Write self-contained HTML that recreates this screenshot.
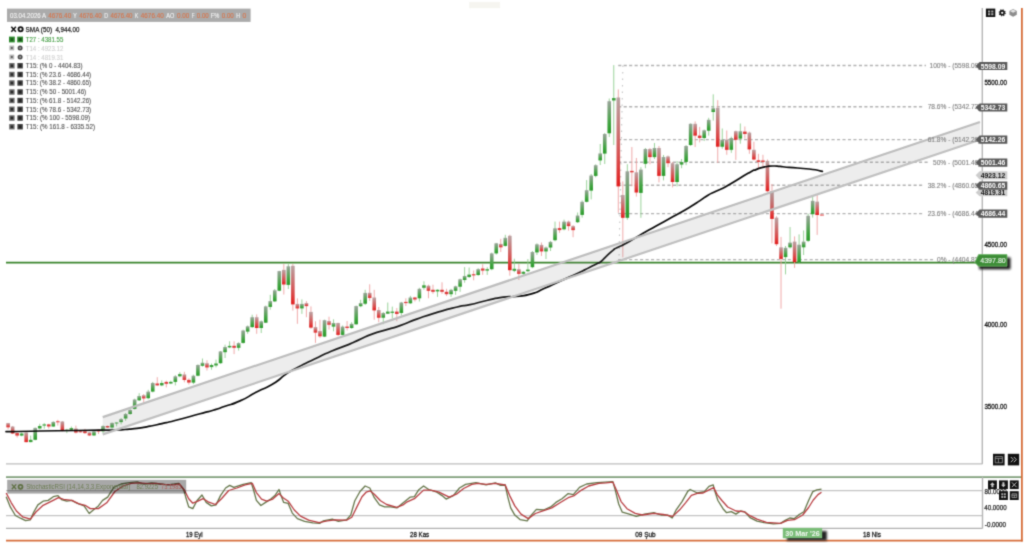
<!DOCTYPE html>
<html><head><meta charset="utf-8"><title>Chart</title>
<style>html,body{margin:0;padding:0;background:#fff;}body{width:1024px;height:543px;overflow:hidden;}svg{display:block;}text{font-family:"Liberation Sans",sans-serif;}</style></head><body>
<svg width="1024" height="543" viewBox="0 0 1024 543">
<defs>
<linearGradient id="gg" x1="0" y1="0" x2="0" y2="1"><stop offset="0" stop-color="#9aa39a"/><stop offset="0.7" stop-color="#3fa43f"/><stop offset="1" stop-color="#2a9a2a"/></linearGradient>
<linearGradient id="gr" x1="0" y1="0" x2="0" y2="1"><stop offset="0" stop-color="#b9a3a3"/><stop offset="0.75" stop-color="#dc4545"/><stop offset="1" stop-color="#e21d1d"/></linearGradient>
<filter id="bl" x="0" y="0" width="100%" height="100%" filterUnits="userSpaceOnUse" color-interpolation-filters="sRGB"><feConvolveMatrix order="3" kernelMatrix="0.0256 0.1088 0.0256 0.1088 0.4624 0.1088 0.0256 0.1088 0.0256" edgeMode="duplicate" preserveAlpha="false"/></filter>
<filter id="sh" x="-20%" y="-20%" width="140%" height="160%"><feGaussianBlur stdDeviation="0.9"/></filter>
</defs>
<rect width="1024" height="543" fill="#fff"/>
<g filter="url(#bl)">
<rect x="469.3" y="2" width="30.7" height="6.2" fill="#f6f5f0"/>
<line x1="982.3" y1="8" x2="982.3" y2="464" stroke="#b6b6b6" stroke-width="1.4"/>
<line x1="6" y1="463.8" x2="982.5" y2="463.8" stroke="#bdbdbd" stroke-width="1.3"/>
<line x1="6" y1="477.2" x2="1021" y2="477.2" stroke="#7f9f7a" stroke-width="1.8"/>
<line x1="6" y1="490.6" x2="982.5" y2="490.6" stroke="#c4c4c4" stroke-width="1.2"/>
<line x1="6" y1="515.6" x2="982.5" y2="515.6" stroke="#c4c4c4" stroke-width="1.2"/>
<line x1="6" y1="528.3" x2="982.5" y2="528.3" stroke="#b0b0b0" stroke-width="1.3"/>
<line x1="982.5" y1="477" x2="982.5" y2="528.5" stroke="#b4b4b4" stroke-width="1.4"/>
<line x1="1021.9" y1="8" x2="1021.9" y2="541.4" stroke="#d66c38" stroke-width="1.8"/>
<line x1="6" y1="540.6" x2="1022.7" y2="540.6" stroke="#d66c38" stroke-width="1.9"/>
<line x1="618.2" y1="65.5" x2="926.0" y2="65.5" stroke="#b2b2b2" stroke-width="1.45" stroke-dasharray="3.1,2.37"/>
<line x1="618.2" y1="106.8" x2="924.2" y2="106.8" stroke="#b2b2b2" stroke-width="1.45" stroke-dasharray="3.1,2.37"/>
<line x1="618.2" y1="139.6" x2="924.2" y2="139.6" stroke="#b2b2b2" stroke-width="1.45" stroke-dasharray="3.1,2.37"/>
<line x1="618.2" y1="162.2" x2="929.5" y2="162.2" stroke="#b2b2b2" stroke-width="1.45" stroke-dasharray="3.1,2.37"/>
<line x1="618.2" y1="185.3" x2="924.2" y2="185.3" stroke="#b2b2b2" stroke-width="1.45" stroke-dasharray="3.1,2.37"/>
<line x1="618.2" y1="213.6" x2="924.2" y2="213.6" stroke="#b2b2b2" stroke-width="1.45" stroke-dasharray="3.1,2.37"/>
<line x1="618.2" y1="259.6" x2="933.5" y2="259.6" stroke="#b2b2b2" stroke-width="1.45" stroke-dasharray="3.1,2.37"/>
<line x1="622.9" y1="65.5" x2="619.0" y2="259.6" stroke="#c4c4c4" stroke-width="1.1" stroke-dasharray="1.6,4.9"/>
<line x1="6" y1="262.6" x2="982" y2="262.6" stroke="#38832a" stroke-width="1.9"/>
<line x1="8.10" y1="423.1" x2="8.10" y2="429.4" stroke="#eea0a0" stroke-width="0.9"/>
<rect x="6.30" y="423.1" width="3.6" height="4.2" fill="url(#gr)"/>
<line x1="12.62" y1="426.0" x2="12.62" y2="434.0" stroke="#eea0a0" stroke-width="0.9"/>
<rect x="10.82" y="426.5" width="3.6" height="7.0" fill="url(#gr)"/>
<line x1="17.14" y1="432.5" x2="17.14" y2="437.5" stroke="#eea0a0" stroke-width="0.9"/>
<rect x="15.34" y="433.1" width="3.6" height="2.5" fill="#dc3a3a"/>
<line x1="21.66" y1="432.5" x2="21.66" y2="436.3" stroke="#8fce8f" stroke-width="0.9"/>
<rect x="19.86" y="433.5" width="3.6" height="2.1" fill="#3a9f3a"/>
<line x1="26.18" y1="432.2" x2="26.18" y2="442.5" stroke="#eea0a0" stroke-width="0.9"/>
<rect x="24.38" y="432.5" width="3.6" height="9.6" fill="url(#gr)"/>
<line x1="30.70" y1="435.6" x2="30.70" y2="442.3" stroke="#8fce8f" stroke-width="0.9"/>
<rect x="28.90" y="439.8" width="3.6" height="2.3" fill="#3a9f3a"/>
<line x1="35.22" y1="427.5" x2="35.22" y2="440.3" stroke="#8fce8f" stroke-width="0.9"/>
<rect x="33.42" y="427.9" width="3.6" height="11.9" fill="url(#gg)"/>
<line x1="39.74" y1="423.8" x2="39.74" y2="429.4" stroke="#8fce8f" stroke-width="0.9"/>
<rect x="37.94" y="426.0" width="3.6" height="2.5" fill="#3a9f3a"/>
<line x1="44.26" y1="423.1" x2="44.26" y2="428.8" stroke="#8fce8f" stroke-width="0.9"/>
<rect x="42.46" y="424.4" width="3.6" height="1.2" fill="#3a9f3a"/>
<line x1="48.78" y1="423.8" x2="48.78" y2="428.8" stroke="#eea0a0" stroke-width="0.9"/>
<rect x="46.98" y="424.4" width="3.6" height="2.1" fill="#dc3a3a"/>
<line x1="53.30" y1="421.3" x2="53.30" y2="426.9" stroke="#8fce8f" stroke-width="0.9"/>
<rect x="51.50" y="421.9" width="3.6" height="4.6" fill="url(#gg)"/>
<line x1="57.82" y1="419.8" x2="57.82" y2="425.6" stroke="#eea0a0" stroke-width="0.9"/>
<rect x="56.02" y="421.3" width="3.6" height="1.0" fill="#dc3a3a"/>
<line x1="62.34" y1="421.0" x2="62.34" y2="431.4" stroke="#eea0a0" stroke-width="0.9"/>
<rect x="60.54" y="421.5" width="3.6" height="9.5" fill="url(#gr)"/>
<line x1="66.86" y1="428.8" x2="66.86" y2="433.1" stroke="#8fce8f" stroke-width="0.9"/>
<rect x="65.06" y="429.8" width="3.6" height="1.2" fill="#3a9f3a"/>
<line x1="71.38" y1="426.5" x2="71.38" y2="430.0" stroke="#8fce8f" stroke-width="0.9"/>
<rect x="69.58" y="428.1" width="3.6" height="1.7" fill="#3a9f3a"/>
<line x1="75.90" y1="425.6" x2="75.90" y2="433.5" stroke="#eea0a0" stroke-width="0.9"/>
<rect x="74.10" y="428.5" width="3.6" height="4.0" fill="url(#gr)"/>
<line x1="80.42" y1="430.6" x2="80.42" y2="432.5" stroke="#eea0a0" stroke-width="0.9"/>
<rect x="78.62" y="431.3" width="3.6" height="1.0" fill="#dc3a3a"/>
<line x1="84.94" y1="428.8" x2="84.94" y2="434.0" stroke="#eea0a0" stroke-width="0.9"/>
<rect x="83.14" y="431.3" width="3.6" height="1.8" fill="#dc3a3a"/>
<line x1="89.46" y1="432.0" x2="89.46" y2="435.8" stroke="#eea0a0" stroke-width="0.9"/>
<rect x="87.66" y="432.3" width="3.6" height="3.1" fill="url(#gr)"/>
<line x1="93.98" y1="430.6" x2="93.98" y2="436.0" stroke="#8fce8f" stroke-width="0.9"/>
<rect x="92.18" y="431.3" width="3.6" height="4.1" fill="url(#gg)"/>
<line x1="98.50" y1="429.8" x2="98.50" y2="434.0" stroke="#eea0a0" stroke-width="0.9"/>
<rect x="96.70" y="429.8" width="3.6" height="1.7" fill="#dc3a3a"/>
<line x1="103.02" y1="425.3" x2="103.02" y2="433.1" stroke="#8fce8f" stroke-width="0.9"/>
<rect x="101.22" y="426.0" width="3.6" height="5.3" fill="url(#gg)"/>
<line x1="107.54" y1="425.6" x2="107.54" y2="428.0" stroke="#eea0a0" stroke-width="0.9"/>
<rect x="105.74" y="426.0" width="3.6" height="1.5" fill="#dc3a3a"/>
<line x1="112.06" y1="422.5" x2="112.06" y2="428.8" stroke="#8fce8f" stroke-width="0.9"/>
<rect x="110.26" y="422.9" width="3.6" height="4.6" fill="url(#gg)"/>
<line x1="116.58" y1="422.5" x2="116.58" y2="426.3" stroke="#8fce8f" stroke-width="0.9"/>
<rect x="114.78" y="422.5" width="3.6" height="1.0" fill="#3a9f3a"/>
<line x1="121.10" y1="418.0" x2="121.10" y2="424.4" stroke="#8fce8f" stroke-width="0.9"/>
<rect x="119.30" y="419.1" width="3.6" height="3.0" fill="url(#gg)"/>
<line x1="125.62" y1="413.0" x2="125.62" y2="420.8" stroke="#8fce8f" stroke-width="0.9"/>
<rect x="123.82" y="414.0" width="3.6" height="4.5" fill="url(#gg)"/>
<line x1="130.14" y1="408.9" x2="130.14" y2="414.8" stroke="#8fce8f" stroke-width="0.9"/>
<rect x="128.34" y="410.0" width="3.6" height="4.0" fill="url(#gg)"/>
<line x1="134.66" y1="398.7" x2="134.66" y2="409.6" stroke="#8fce8f" stroke-width="0.9"/>
<rect x="132.86" y="399.5" width="3.6" height="9.4" fill="url(#gg)"/>
<line x1="139.18" y1="393.2" x2="139.18" y2="401.0" stroke="#8fce8f" stroke-width="0.9"/>
<rect x="137.38" y="396.0" width="3.6" height="4.3" fill="url(#gg)"/>
<line x1="143.70" y1="394.0" x2="143.70" y2="402.6" stroke="#eea0a0" stroke-width="0.9"/>
<rect x="141.90" y="395.2" width="3.6" height="3.2" fill="url(#gr)"/>
<line x1="148.22" y1="389.8" x2="148.22" y2="399.2" stroke="#8fce8f" stroke-width="0.9"/>
<rect x="146.42" y="391.6" width="3.6" height="6.6" fill="url(#gg)"/>
<line x1="152.74" y1="381.9" x2="152.74" y2="392.4" stroke="#8fce8f" stroke-width="0.9"/>
<rect x="150.94" y="383.0" width="3.6" height="8.6" fill="url(#gg)"/>
<line x1="157.26" y1="377.2" x2="157.26" y2="385.7" stroke="#eea0a0" stroke-width="0.9"/>
<rect x="155.46" y="383.5" width="3.6" height="1.9" fill="#dc3a3a"/>
<line x1="161.78" y1="380.4" x2="161.78" y2="386.2" stroke="#8fce8f" stroke-width="0.9"/>
<rect x="159.98" y="383.0" width="3.6" height="2.4" fill="#3a9f3a"/>
<line x1="166.30" y1="380.7" x2="166.30" y2="387.4" stroke="#eea0a0" stroke-width="0.9"/>
<rect x="164.50" y="381.9" width="3.6" height="1.9" fill="#dc3a3a"/>
<line x1="170.82" y1="380.7" x2="170.82" y2="384.1" stroke="#8fce8f" stroke-width="0.9"/>
<rect x="169.02" y="381.9" width="3.6" height="1.6" fill="#3a9f3a"/>
<line x1="175.34" y1="375.2" x2="175.34" y2="385.4" stroke="#8fce8f" stroke-width="0.9"/>
<rect x="173.54" y="376.3" width="3.6" height="5.6" fill="url(#gg)"/>
<line x1="179.86" y1="372.1" x2="179.86" y2="377.2" stroke="#8fce8f" stroke-width="0.9"/>
<rect x="178.06" y="374.1" width="3.6" height="2.2" fill="#3a9f3a"/>
<line x1="184.38" y1="371.8" x2="184.38" y2="382.3" stroke="#eea0a0" stroke-width="0.9"/>
<rect x="182.58" y="374.4" width="3.6" height="5.5" fill="url(#gr)"/>
<line x1="188.90" y1="378.3" x2="188.90" y2="384.6" stroke="#eea0a0" stroke-width="0.9"/>
<rect x="187.10" y="379.9" width="3.6" height="2.7" fill="#dc3a3a"/>
<line x1="193.42" y1="374.7" x2="193.42" y2="384.1" stroke="#8fce8f" stroke-width="0.9"/>
<rect x="191.62" y="375.7" width="3.6" height="6.9" fill="url(#gg)"/>
<line x1="197.94" y1="364.3" x2="197.94" y2="376.3" stroke="#8fce8f" stroke-width="0.9"/>
<rect x="196.14" y="365.0" width="3.6" height="10.7" fill="url(#gg)"/>
<line x1="202.46" y1="358.5" x2="202.46" y2="366.6" stroke="#8fce8f" stroke-width="0.9"/>
<rect x="200.66" y="362.7" width="3.6" height="3.1" fill="url(#gg)"/>
<line x1="206.98" y1="360.3" x2="206.98" y2="370.5" stroke="#eea0a0" stroke-width="0.9"/>
<rect x="205.18" y="363.2" width="3.6" height="4.2" fill="url(#gr)"/>
<line x1="211.50" y1="363.5" x2="211.50" y2="369.7" stroke="#8fce8f" stroke-width="0.9"/>
<rect x="209.70" y="365.0" width="3.6" height="2.1" fill="#3a9f3a"/>
<line x1="216.02" y1="359.6" x2="216.02" y2="367.4" stroke="#8fce8f" stroke-width="0.9"/>
<rect x="214.22" y="363.5" width="3.6" height="2.0" fill="#3a9f3a"/>
<line x1="220.54" y1="351.0" x2="220.54" y2="363.8" stroke="#8fce8f" stroke-width="0.9"/>
<rect x="218.74" y="351.4" width="3.6" height="11.8" fill="url(#gg)"/>
<line x1="225.06" y1="344.7" x2="225.06" y2="358.0" stroke="#8fce8f" stroke-width="0.9"/>
<rect x="223.26" y="347.0" width="3.6" height="5.2" fill="url(#gg)"/>
<line x1="229.58" y1="341.3" x2="229.58" y2="348.1" stroke="#8fce8f" stroke-width="0.9"/>
<rect x="227.78" y="345.9" width="3.6" height="1.5" fill="#3a9f3a"/>
<line x1="234.10" y1="341.3" x2="234.10" y2="354.1" stroke="#eea0a0" stroke-width="0.9"/>
<rect x="232.30" y="345.8" width="3.6" height="2.0" fill="#dc3a3a"/>
<line x1="238.62" y1="342.3" x2="238.62" y2="350.6" stroke="#8fce8f" stroke-width="0.9"/>
<rect x="236.82" y="343.1" width="3.6" height="4.7" fill="url(#gg)"/>
<line x1="243.14" y1="329.7" x2="243.14" y2="343.7" stroke="#8fce8f" stroke-width="0.9"/>
<rect x="241.34" y="330.5" width="3.6" height="12.4" fill="url(#gg)"/>
<line x1="247.66" y1="325.5" x2="247.66" y2="333.8" stroke="#8fce8f" stroke-width="0.9"/>
<rect x="245.86" y="326.3" width="3.6" height="5.3" fill="url(#gg)"/>
<line x1="252.18" y1="314.7" x2="252.18" y2="328.0" stroke="#8fce8f" stroke-width="0.9"/>
<rect x="250.38" y="317.2" width="3.6" height="9.9" fill="url(#gg)"/>
<line x1="256.70" y1="314.4" x2="256.70" y2="333.8" stroke="#eea0a0" stroke-width="0.9"/>
<rect x="254.90" y="317.2" width="3.6" height="10.8" fill="url(#gr)"/>
<line x1="261.22" y1="320.5" x2="261.22" y2="333.0" stroke="#8fce8f" stroke-width="0.9"/>
<rect x="259.42" y="321.3" width="3.6" height="6.7" fill="url(#gg)"/>
<line x1="265.74" y1="305.6" x2="265.74" y2="323.0" stroke="#8fce8f" stroke-width="0.9"/>
<rect x="263.94" y="306.4" width="3.6" height="16.3" fill="url(#gg)"/>
<line x1="270.26" y1="294.8" x2="270.26" y2="309.7" stroke="#8fce8f" stroke-width="0.9"/>
<rect x="268.46" y="301.1" width="3.6" height="5.8" fill="url(#gg)"/>
<line x1="274.78" y1="289.0" x2="274.78" y2="301.9" stroke="#8fce8f" stroke-width="0.9"/>
<rect x="272.98" y="290.3" width="3.6" height="11.1" fill="url(#gg)"/>
<line x1="279.30" y1="270.8" x2="279.30" y2="291.2" stroke="#8fce8f" stroke-width="0.9"/>
<rect x="277.50" y="271.1" width="3.6" height="19.6" fill="url(#gg)"/>
<line x1="283.82" y1="264.1" x2="283.82" y2="294.5" stroke="#eea0a0" stroke-width="0.9"/>
<rect x="282.02" y="269.9" width="3.6" height="14.6" fill="url(#gr)"/>
<line x1="288.34" y1="264.1" x2="288.34" y2="289.0" stroke="#8fce8f" stroke-width="0.9"/>
<rect x="286.54" y="266.3" width="3.6" height="18.6" fill="url(#gg)"/>
<line x1="292.86" y1="264.1" x2="292.86" y2="310.6" stroke="#eea0a0" stroke-width="0.9"/>
<rect x="291.06" y="265.8" width="3.6" height="38.6" fill="url(#gr)"/>
<line x1="297.38" y1="298.4" x2="297.38" y2="323.8" stroke="#eea0a0" stroke-width="0.9"/>
<rect x="295.58" y="303.9" width="3.6" height="4.5" fill="url(#gr)"/>
<line x1="301.90" y1="299.4" x2="301.90" y2="313.9" stroke="#8fce8f" stroke-width="0.9"/>
<rect x="300.10" y="303.9" width="3.6" height="4.5" fill="url(#gg)"/>
<line x1="306.42" y1="301.1" x2="306.42" y2="317.2" stroke="#eea0a0" stroke-width="0.9"/>
<rect x="304.62" y="303.1" width="3.6" height="3.0" fill="url(#gr)"/>
<line x1="310.94" y1="306.4" x2="310.94" y2="328.8" stroke="#eea0a0" stroke-width="0.9"/>
<rect x="309.14" y="311.9" width="3.6" height="15.7" fill="url(#gr)"/>
<line x1="315.46" y1="321.3" x2="315.46" y2="342.9" stroke="#eea0a0" stroke-width="0.9"/>
<rect x="313.66" y="327.1" width="3.6" height="5.5" fill="url(#gr)"/>
<line x1="319.98" y1="319.7" x2="319.98" y2="337.9" stroke="#eea0a0" stroke-width="0.9"/>
<rect x="318.18" y="331.0" width="3.6" height="5.3" fill="url(#gr)"/>
<line x1="324.50" y1="319.7" x2="324.50" y2="337.1" stroke="#8fce8f" stroke-width="0.9"/>
<rect x="322.70" y="320.2" width="3.6" height="16.4" fill="url(#gg)"/>
<line x1="329.02" y1="316.7" x2="329.02" y2="329.6" stroke="#eea0a0" stroke-width="0.9"/>
<rect x="327.22" y="321.0" width="3.6" height="3.7" fill="url(#gr)"/>
<line x1="333.54" y1="319.3" x2="333.54" y2="331.3" stroke="#8fce8f" stroke-width="0.9"/>
<rect x="331.74" y="323.0" width="3.6" height="3.6" fill="url(#gg)"/>
<line x1="338.06" y1="322.7" x2="338.06" y2="336.3" stroke="#eea0a0" stroke-width="0.9"/>
<rect x="336.26" y="323.0" width="3.6" height="11.9" fill="url(#gr)"/>
<line x1="342.58" y1="325.5" x2="342.58" y2="335.4" stroke="#8fce8f" stroke-width="0.9"/>
<rect x="340.78" y="326.6" width="3.6" height="8.3" fill="url(#gg)"/>
<line x1="347.10" y1="321.0" x2="347.10" y2="330.5" stroke="#eea0a0" stroke-width="0.9"/>
<rect x="345.30" y="326.6" width="3.6" height="1.4" fill="#dc3a3a"/>
<line x1="351.62" y1="322.2" x2="351.62" y2="328.8" stroke="#8fce8f" stroke-width="0.9"/>
<rect x="349.82" y="323.8" width="3.6" height="4.2" fill="url(#gg)"/>
<line x1="356.14" y1="305.5" x2="356.14" y2="324.8" stroke="#8fce8f" stroke-width="0.9"/>
<rect x="354.34" y="306.1" width="3.6" height="18.2" fill="url(#gg)"/>
<line x1="360.66" y1="299.8" x2="360.66" y2="307.2" stroke="#8fce8f" stroke-width="0.9"/>
<rect x="358.86" y="303.1" width="3.6" height="3.1" fill="url(#gg)"/>
<line x1="365.18" y1="289.8" x2="365.18" y2="305.0" stroke="#8fce8f" stroke-width="0.9"/>
<rect x="363.38" y="292.9" width="3.6" height="10.8" fill="url(#gg)"/>
<line x1="369.70" y1="284.3" x2="369.70" y2="300.9" stroke="#eea0a0" stroke-width="0.9"/>
<rect x="367.90" y="292.8" width="3.6" height="5.1" fill="url(#gr)"/>
<line x1="374.22" y1="289.8" x2="374.22" y2="319.7" stroke="#eea0a0" stroke-width="0.9"/>
<rect x="372.42" y="297.5" width="3.6" height="12.9" fill="url(#gr)"/>
<line x1="378.74" y1="307.0" x2="378.74" y2="322.2" stroke="#eea0a0" stroke-width="0.9"/>
<rect x="376.94" y="310.0" width="3.6" height="7.7" fill="url(#gr)"/>
<line x1="383.26" y1="312.0" x2="383.26" y2="324.2" stroke="#8fce8f" stroke-width="0.9"/>
<rect x="381.46" y="313.0" width="3.6" height="4.7" fill="url(#gg)"/>
<line x1="387.78" y1="302.5" x2="387.78" y2="314.0" stroke="#8fce8f" stroke-width="0.9"/>
<rect x="385.98" y="311.6" width="3.6" height="2.1" fill="#3a9f3a"/>
<line x1="392.30" y1="306.6" x2="392.30" y2="318.5" stroke="#8fce8f" stroke-width="0.9"/>
<rect x="390.50" y="311.6" width="3.6" height="1.3" fill="#3a9f3a"/>
<line x1="396.82" y1="308.0" x2="396.82" y2="321.2" stroke="#eea0a0" stroke-width="0.9"/>
<rect x="395.02" y="311.6" width="3.6" height="2.4" fill="#dc3a3a"/>
<line x1="401.34" y1="301.9" x2="401.34" y2="315.7" stroke="#8fce8f" stroke-width="0.9"/>
<rect x="399.54" y="302.5" width="3.6" height="10.5" fill="url(#gg)"/>
<line x1="405.86" y1="298.3" x2="405.86" y2="306.0" stroke="#eea0a0" stroke-width="0.9"/>
<rect x="404.06" y="301.9" width="3.6" height="1.2" fill="#dc3a3a"/>
<line x1="410.38" y1="295.9" x2="410.38" y2="303.9" stroke="#8fce8f" stroke-width="0.9"/>
<rect x="408.58" y="297.5" width="3.6" height="5.8" fill="url(#gg)"/>
<line x1="414.90" y1="296.9" x2="414.90" y2="301.5" stroke="#eea0a0" stroke-width="0.9"/>
<rect x="413.10" y="297.5" width="3.6" height="2.0" fill="#dc3a3a"/>
<line x1="419.42" y1="287.8" x2="419.42" y2="301.5" stroke="#8fce8f" stroke-width="0.9"/>
<rect x="417.62" y="288.8" width="3.6" height="9.5" fill="url(#gg)"/>
<line x1="423.94" y1="281.3" x2="423.94" y2="289.8" stroke="#8fce8f" stroke-width="0.9"/>
<rect x="422.14" y="285.3" width="3.6" height="2.5" fill="#3a9f3a"/>
<line x1="428.46" y1="284.7" x2="428.46" y2="298.3" stroke="#eea0a0" stroke-width="0.9"/>
<rect x="426.66" y="285.7" width="3.6" height="5.1" fill="url(#gr)"/>
<line x1="432.98" y1="284.7" x2="432.98" y2="293.8" stroke="#eea0a0" stroke-width="0.9"/>
<rect x="431.18" y="289.8" width="3.6" height="2.0" fill="#dc3a3a"/>
<line x1="437.50" y1="289.4" x2="437.50" y2="296.9" stroke="#8fce8f" stroke-width="0.9"/>
<rect x="435.70" y="289.8" width="3.6" height="1.6" fill="#3a9f3a"/>
<line x1="442.02" y1="282.3" x2="442.02" y2="293.8" stroke="#eea0a0" stroke-width="0.9"/>
<rect x="440.22" y="289.8" width="3.6" height="2.0" fill="#dc3a3a"/>
<line x1="446.54" y1="288.8" x2="446.54" y2="295.9" stroke="#eea0a0" stroke-width="0.9"/>
<rect x="444.74" y="291.8" width="3.6" height="2.4" fill="#dc3a3a"/>
<line x1="451.06" y1="288.8" x2="451.06" y2="296.9" stroke="#8fce8f" stroke-width="0.9"/>
<rect x="449.26" y="289.8" width="3.6" height="4.4" fill="url(#gg)"/>
<line x1="455.58" y1="285.7" x2="455.58" y2="294.8" stroke="#8fce8f" stroke-width="0.9"/>
<rect x="453.78" y="286.3" width="3.6" height="4.5" fill="url(#gg)"/>
<line x1="460.10" y1="278.6" x2="460.10" y2="291.8" stroke="#8fce8f" stroke-width="0.9"/>
<rect x="458.30" y="279.3" width="3.6" height="7.4" fill="url(#gg)"/>
<line x1="464.62" y1="267.1" x2="464.62" y2="282.7" stroke="#8fce8f" stroke-width="0.9"/>
<rect x="462.82" y="276.0" width="3.6" height="4.0" fill="url(#gg)"/>
<line x1="469.14" y1="267.5" x2="469.14" y2="278.0" stroke="#8fce8f" stroke-width="0.9"/>
<rect x="467.34" y="274.6" width="3.6" height="2.4" fill="#3a9f3a"/>
<line x1="473.66" y1="270.5" x2="473.66" y2="280.3" stroke="#eea0a0" stroke-width="0.9"/>
<rect x="471.86" y="274.2" width="3.6" height="1.2" fill="#dc3a3a"/>
<line x1="478.18" y1="268.2" x2="478.18" y2="275.8" stroke="#8fce8f" stroke-width="0.9"/>
<rect x="476.38" y="269.2" width="3.6" height="5.8" fill="url(#gg)"/>
<line x1="482.70" y1="264.3" x2="482.70" y2="274.8" stroke="#eea0a0" stroke-width="0.9"/>
<rect x="480.90" y="268.5" width="3.6" height="2.1" fill="#dc3a3a"/>
<line x1="487.22" y1="267.2" x2="487.22" y2="274.9" stroke="#8fce8f" stroke-width="0.9"/>
<rect x="485.42" y="269.2" width="3.6" height="1.4" fill="#3a9f3a"/>
<line x1="491.74" y1="252.6" x2="491.74" y2="270.2" stroke="#8fce8f" stroke-width="0.9"/>
<rect x="489.94" y="253.4" width="3.6" height="15.8" fill="url(#gg)"/>
<line x1="496.26" y1="242.9" x2="496.26" y2="254.6" stroke="#8fce8f" stroke-width="0.9"/>
<rect x="494.46" y="243.3" width="3.6" height="10.1" fill="url(#gg)"/>
<line x1="500.78" y1="238.8" x2="500.78" y2="252.0" stroke="#eea0a0" stroke-width="0.9"/>
<rect x="498.98" y="243.9" width="3.6" height="3.4" fill="url(#gr)"/>
<line x1="505.30" y1="234.8" x2="505.30" y2="246.5" stroke="#8fce8f" stroke-width="0.9"/>
<rect x="503.50" y="237.8" width="3.6" height="8.1" fill="url(#gg)"/>
<line x1="509.82" y1="234.8" x2="509.82" y2="275.7" stroke="#eea0a0" stroke-width="0.9"/>
<rect x="508.02" y="235.8" width="3.6" height="34.4" fill="url(#gr)"/>
<line x1="514.34" y1="258.7" x2="514.34" y2="272.2" stroke="#8fce8f" stroke-width="0.9"/>
<rect x="512.54" y="268.8" width="3.6" height="2.0" fill="#3a9f3a"/>
<line x1="518.86" y1="264.1" x2="518.86" y2="280.0" stroke="#eea0a0" stroke-width="0.9"/>
<rect x="517.06" y="269.2" width="3.6" height="4.6" fill="url(#gr)"/>
<line x1="523.38" y1="271.2" x2="523.38" y2="274.9" stroke="#8fce8f" stroke-width="0.9"/>
<rect x="521.58" y="271.8" width="3.6" height="2.0" fill="#3a9f3a"/>
<line x1="527.90" y1="259.0" x2="527.90" y2="272.2" stroke="#8fce8f" stroke-width="0.9"/>
<rect x="526.10" y="269.6" width="3.6" height="1.6" fill="#3a9f3a"/>
<line x1="532.42" y1="251.0" x2="532.42" y2="268.2" stroke="#8fce8f" stroke-width="0.9"/>
<rect x="530.62" y="252.0" width="3.6" height="15.2" fill="url(#gg)"/>
<line x1="536.94" y1="243.3" x2="536.94" y2="255.0" stroke="#8fce8f" stroke-width="0.9"/>
<rect x="535.14" y="244.3" width="3.6" height="8.1" fill="url(#gg)"/>
<line x1="541.46" y1="242.5" x2="541.46" y2="256.0" stroke="#eea0a0" stroke-width="0.9"/>
<rect x="539.66" y="244.9" width="3.6" height="6.5" fill="url(#gr)"/>
<line x1="545.98" y1="246.5" x2="545.98" y2="259.0" stroke="#8fce8f" stroke-width="0.9"/>
<rect x="544.18" y="247.5" width="3.6" height="3.9" fill="url(#gg)"/>
<line x1="550.50" y1="240.9" x2="550.50" y2="251.0" stroke="#8fce8f" stroke-width="0.9"/>
<rect x="548.70" y="241.9" width="3.6" height="5.6" fill="url(#gg)"/>
<line x1="555.02" y1="221.6" x2="555.02" y2="241.3" stroke="#8fce8f" stroke-width="0.9"/>
<rect x="553.22" y="228.3" width="3.6" height="11.9" fill="url(#gg)"/>
<line x1="559.54" y1="221.6" x2="559.54" y2="232.8" stroke="#eea0a0" stroke-width="0.9"/>
<rect x="557.74" y="228.1" width="3.6" height="2.0" fill="#dc3a3a"/>
<line x1="564.06" y1="219.6" x2="564.06" y2="230.3" stroke="#8fce8f" stroke-width="0.9"/>
<rect x="562.26" y="221.6" width="3.6" height="7.7" fill="url(#gg)"/>
<line x1="568.58" y1="220.6" x2="568.58" y2="230.7" stroke="#eea0a0" stroke-width="0.9"/>
<rect x="566.78" y="221.6" width="3.6" height="4.5" fill="url(#gr)"/>
<line x1="573.10" y1="225.1" x2="573.10" y2="237.2" stroke="#eea0a0" stroke-width="0.9"/>
<rect x="571.30" y="226.1" width="3.6" height="4.0" fill="url(#gr)"/>
<line x1="577.62" y1="212.5" x2="577.62" y2="223.0" stroke="#8fce8f" stroke-width="0.9"/>
<rect x="575.82" y="215.5" width="3.6" height="6.7" fill="url(#gg)"/>
<line x1="582.14" y1="200.4" x2="582.14" y2="217.6" stroke="#8fce8f" stroke-width="0.9"/>
<rect x="580.34" y="201.8" width="3.6" height="13.1" fill="url(#gg)"/>
<line x1="586.66" y1="180.1" x2="586.66" y2="202.4" stroke="#8fce8f" stroke-width="0.9"/>
<rect x="584.86" y="190.2" width="3.6" height="11.6" fill="url(#gg)"/>
<line x1="591.18" y1="174.0" x2="591.18" y2="199.4" stroke="#8fce8f" stroke-width="0.9"/>
<rect x="589.38" y="175.5" width="3.6" height="15.1" fill="url(#gg)"/>
<line x1="595.70" y1="164.3" x2="595.70" y2="177.3" stroke="#8fce8f" stroke-width="0.9"/>
<rect x="593.90" y="165.2" width="3.6" height="10.7" fill="url(#gg)"/>
<line x1="600.22" y1="144.0" x2="600.22" y2="165.0" stroke="#8fce8f" stroke-width="0.9"/>
<rect x="598.42" y="153.4" width="3.6" height="7.0" fill="url(#gg)"/>
<line x1="604.74" y1="133.0" x2="604.74" y2="164.0" stroke="#8fce8f" stroke-width="0.9"/>
<rect x="602.94" y="134.0" width="3.6" height="19.6" fill="url(#gg)"/>
<line x1="609.26" y1="98.5" x2="609.26" y2="137.0" stroke="#8fce8f" stroke-width="0.9"/>
<rect x="607.46" y="101.2" width="3.6" height="32.1" fill="url(#gg)"/>
<line x1="613.78" y1="65.1" x2="613.78" y2="145.0" stroke="#8fce8f" stroke-width="0.9"/>
<rect x="611.98" y="98.1" width="3.6" height="2.4" fill="#3a9f3a"/>
<line x1="618.30" y1="89.4" x2="618.30" y2="212.8" stroke="#eea0a0" stroke-width="0.9"/>
<rect x="616.50" y="97.5" width="3.6" height="88.9" fill="url(#gr)"/>
<line x1="622.82" y1="181.4" x2="622.82" y2="257.3" stroke="#eea0a0" stroke-width="0.9"/>
<rect x="621.02" y="195.0" width="3.6" height="22.8" fill="url(#gr)"/>
<line x1="627.34" y1="164.2" x2="627.34" y2="219.8" stroke="#8fce8f" stroke-width="0.9"/>
<rect x="625.54" y="171.3" width="3.6" height="46.5" fill="url(#gg)"/>
<line x1="631.86" y1="147.0" x2="631.86" y2="186.4" stroke="#eea0a0" stroke-width="0.9"/>
<rect x="630.06" y="170.9" width="3.6" height="1.4" fill="#dc3a3a"/>
<line x1="636.38" y1="158.0" x2="636.38" y2="196.6" stroke="#eea0a0" stroke-width="0.9"/>
<rect x="634.58" y="172.3" width="3.6" height="20.2" fill="url(#gr)"/>
<line x1="640.90" y1="167.2" x2="640.90" y2="217.8" stroke="#8fce8f" stroke-width="0.9"/>
<rect x="639.10" y="169.6" width="3.6" height="23.3" fill="url(#gg)"/>
<line x1="645.42" y1="148.0" x2="645.42" y2="168.2" stroke="#8fce8f" stroke-width="0.9"/>
<rect x="643.62" y="149.0" width="3.6" height="14.8" fill="url(#gg)"/>
<line x1="649.94" y1="148.0" x2="649.94" y2="164.2" stroke="#eea0a0" stroke-width="0.9"/>
<rect x="648.14" y="149.0" width="3.6" height="8.1" fill="url(#gr)"/>
<line x1="654.46" y1="143.0" x2="654.46" y2="159.0" stroke="#8fce8f" stroke-width="0.9"/>
<rect x="652.66" y="148.0" width="3.6" height="9.1" fill="url(#gg)"/>
<line x1="658.98" y1="146.0" x2="658.98" y2="182.4" stroke="#eea0a0" stroke-width="0.9"/>
<rect x="657.18" y="148.0" width="3.6" height="27.9" fill="url(#gr)"/>
<line x1="663.50" y1="155.0" x2="663.50" y2="180.4" stroke="#8fce8f" stroke-width="0.9"/>
<rect x="661.70" y="157.0" width="3.6" height="18.9" fill="url(#gg)"/>
<line x1="668.02" y1="155.5" x2="668.02" y2="167.2" stroke="#eea0a0" stroke-width="0.9"/>
<rect x="666.22" y="156.4" width="3.6" height="6.8" fill="url(#gr)"/>
<line x1="672.54" y1="162.0" x2="672.54" y2="187.4" stroke="#eea0a0" stroke-width="0.9"/>
<rect x="670.74" y="163.2" width="3.6" height="18.8" fill="url(#gr)"/>
<line x1="677.06" y1="161.0" x2="677.06" y2="186.4" stroke="#8fce8f" stroke-width="0.9"/>
<rect x="675.26" y="164.2" width="3.6" height="17.8" fill="url(#gg)"/>
<line x1="681.58" y1="159.0" x2="681.58" y2="168.2" stroke="#8fce8f" stroke-width="0.9"/>
<rect x="679.78" y="162.1" width="3.6" height="2.5" fill="#3a9f3a"/>
<line x1="686.10" y1="145.0" x2="686.10" y2="165.2" stroke="#8fce8f" stroke-width="0.9"/>
<rect x="684.30" y="146.0" width="3.6" height="15.9" fill="url(#gg)"/>
<line x1="690.62" y1="123.4" x2="690.62" y2="146.0" stroke="#8fce8f" stroke-width="0.9"/>
<rect x="688.82" y="123.8" width="3.6" height="21.2" fill="url(#gg)"/>
<line x1="695.14" y1="121.4" x2="695.14" y2="147.0" stroke="#eea0a0" stroke-width="0.9"/>
<rect x="693.34" y="123.8" width="3.6" height="11.8" fill="url(#gr)"/>
<line x1="699.66" y1="126.9" x2="699.66" y2="142.4" stroke="#eea0a0" stroke-width="0.9"/>
<rect x="697.86" y="135.6" width="3.6" height="2.4" fill="#dc3a3a"/>
<line x1="704.18" y1="129.5" x2="704.18" y2="141.0" stroke="#8fce8f" stroke-width="0.9"/>
<rect x="702.38" y="130.3" width="3.6" height="7.7" fill="url(#gg)"/>
<line x1="708.70" y1="117.8" x2="708.70" y2="135.6" stroke="#8fce8f" stroke-width="0.9"/>
<rect x="706.90" y="119.8" width="3.6" height="10.9" fill="url(#gg)"/>
<line x1="713.22" y1="94.3" x2="713.22" y2="120.6" stroke="#8fce8f" stroke-width="0.9"/>
<rect x="711.42" y="108.2" width="3.6" height="3.8" fill="url(#gg)"/>
<line x1="717.74" y1="100.2" x2="717.74" y2="162.9" stroke="#eea0a0" stroke-width="0.9"/>
<rect x="715.94" y="107.9" width="3.6" height="38.8" fill="url(#gr)"/>
<line x1="722.26" y1="128.5" x2="722.26" y2="148.8" stroke="#8fce8f" stroke-width="0.9"/>
<rect x="720.46" y="139.7" width="3.6" height="7.0" fill="url(#gg)"/>
<line x1="726.78" y1="130.5" x2="726.78" y2="154.8" stroke="#eea0a0" stroke-width="0.9"/>
<rect x="724.98" y="139.7" width="3.6" height="10.1" fill="url(#gr)"/>
<line x1="731.30" y1="136.6" x2="731.30" y2="152.8" stroke="#8fce8f" stroke-width="0.9"/>
<rect x="729.50" y="138.0" width="3.6" height="11.8" fill="url(#gg)"/>
<line x1="735.82" y1="130.5" x2="735.82" y2="159.9" stroke="#eea0a0" stroke-width="0.9"/>
<rect x="734.02" y="131.2" width="3.6" height="8.5" fill="url(#gr)"/>
<line x1="740.34" y1="123.5" x2="740.34" y2="143.7" stroke="#8fce8f" stroke-width="0.9"/>
<rect x="738.54" y="131.2" width="3.6" height="7.4" fill="url(#gg)"/>
<line x1="744.86" y1="126.5" x2="744.86" y2="138.6" stroke="#eea0a0" stroke-width="0.9"/>
<rect x="743.06" y="131.6" width="3.6" height="2.4" fill="#dc3a3a"/>
<line x1="749.38" y1="131.6" x2="749.38" y2="153.8" stroke="#eea0a0" stroke-width="0.9"/>
<rect x="747.58" y="132.6" width="3.6" height="16.8" fill="url(#gr)"/>
<line x1="753.90" y1="141.7" x2="753.90" y2="160.3" stroke="#eea0a0" stroke-width="0.9"/>
<rect x="752.10" y="149.8" width="3.6" height="9.7" fill="url(#gr)"/>
<line x1="758.42" y1="153.8" x2="758.42" y2="168.0" stroke="#eea0a0" stroke-width="0.9"/>
<rect x="756.62" y="160.3" width="3.6" height="1.6" fill="#dc3a3a"/>
<line x1="762.94" y1="154.8" x2="762.94" y2="167.0" stroke="#eea0a0" stroke-width="0.9"/>
<rect x="761.14" y="160.5" width="3.6" height="1.4" fill="#dc3a3a"/>
<line x1="767.46" y1="159.5" x2="767.46" y2="192.3" stroke="#eea0a0" stroke-width="0.9"/>
<rect x="765.66" y="160.9" width="3.6" height="30.3" fill="url(#gr)"/>
<line x1="771.98" y1="184.0" x2="771.98" y2="243.4" stroke="#eea0a0" stroke-width="0.9"/>
<rect x="770.18" y="191.0" width="3.6" height="27.9" fill="url(#gr)"/>
<line x1="776.50" y1="216.3" x2="776.50" y2="246.0" stroke="#eea0a0" stroke-width="0.9"/>
<rect x="774.70" y="217.6" width="3.6" height="26.6" fill="url(#gr)"/>
<line x1="781.02" y1="236.9" x2="781.02" y2="308.7" stroke="#eea0a0" stroke-width="0.9"/>
<rect x="779.22" y="247.3" width="3.6" height="11.6" fill="url(#gr)"/>
<line x1="785.54" y1="246.0" x2="785.54" y2="274.4" stroke="#8fce8f" stroke-width="0.9"/>
<rect x="783.74" y="247.8" width="3.6" height="9.3" fill="url(#gg)"/>
<line x1="790.06" y1="227.1" x2="790.06" y2="248.5" stroke="#8fce8f" stroke-width="0.9"/>
<rect x="788.26" y="242.6" width="3.6" height="4.7" fill="url(#gg)"/>
<line x1="794.58" y1="236.4" x2="794.58" y2="267.9" stroke="#eea0a0" stroke-width="0.9"/>
<rect x="792.78" y="241.6" width="3.6" height="20.6" fill="url(#gr)"/>
<line x1="799.10" y1="234.4" x2="799.10" y2="262.7" stroke="#8fce8f" stroke-width="0.9"/>
<rect x="797.30" y="244.7" width="3.6" height="17.5" fill="url(#gg)"/>
<line x1="803.62" y1="230.5" x2="803.62" y2="255.0" stroke="#8fce8f" stroke-width="0.9"/>
<rect x="801.82" y="241.6" width="3.6" height="5.7" fill="url(#gg)"/>
<line x1="808.14" y1="213.7" x2="808.14" y2="242.1" stroke="#8fce8f" stroke-width="0.9"/>
<rect x="806.34" y="215.8" width="3.6" height="25.0" fill="url(#gg)"/>
<line x1="812.66" y1="195.6" x2="812.66" y2="217.6" stroke="#8fce8f" stroke-width="0.9"/>
<rect x="810.86" y="200.8" width="3.6" height="13.4" fill="url(#gg)"/>
<line x1="817.18" y1="194.4" x2="817.18" y2="234.9" stroke="#eea0a0" stroke-width="0.9"/>
<rect x="815.38" y="201.6" width="3.6" height="13.4" fill="url(#gr)"/>
<line x1="821.70" y1="214.6" x2="821.70" y2="215.4" stroke="#eea0a0" stroke-width="0.9"/>
<rect x="819.90" y="214.6" width="4" height="0.9" fill="#e03030"/>
<path d="M6.0,431.7 C17.3,431.5 8.7,431.5 40.0,431.0 C71.3,430.5 75.0,430.5 100.0,430.2 C125.0,429.9 106.7,430.2 115.0,430.0 C123.3,429.8 117.7,430.1 125.0,429.5 C132.3,428.9 128.7,429.4 137.0,428.3 C145.3,427.2 141.7,427.8 150.0,426.2 C158.3,424.6 153.7,425.5 162.0,423.6 C170.3,421.7 162.3,423.8 175.0,420.5 C187.7,417.2 187.0,417.3 200.0,413.8 C213.0,410.3 205.6,412.5 213.9,410.0 C222.2,407.5 216.3,409.3 225.0,406.3 C233.7,403.3 229.5,405.6 240.0,400.9 C250.5,396.2 245.5,397.8 256.6,392.1 C267.7,386.4 263.3,389.9 273.2,383.8 C283.1,377.7 278.1,379.4 286.4,373.9 C294.7,368.4 288.6,372.3 298.0,367.3 C307.4,362.3 303.5,364.4 314.6,359.0 C325.7,353.6 320.1,355.9 331.2,351.2 C342.3,346.5 338.4,348.8 347.8,344.9 C357.2,341.0 351.1,343.3 359.4,339.6 C367.7,335.9 363.9,337.1 372.7,333.9 C381.5,330.7 376.8,332.7 385.9,329.9 C395.0,327.1 389.7,329.2 400.0,325.6 C410.3,322.0 404.4,323.5 416.7,319.1 C429.0,314.7 423.5,316.4 437.0,312.4 C450.5,308.4 446.2,309.6 457.2,307.0 C468.2,304.4 460.2,306.9 470.0,304.7 C479.8,302.5 475.5,303.0 486.6,300.5 C497.7,298.0 493.3,298.6 503.2,297.2 C513.1,295.8 507.0,297.5 516.4,296.4 C525.8,295.3 522.0,296.6 531.4,293.9 C540.8,291.2 534.7,292.7 544.6,288.3 C554.5,283.9 550.1,285.6 561.2,280.6 C572.3,275.6 568.4,277.6 577.8,273.2 C587.2,268.8 583.2,270.5 589.4,267.4 C595.6,264.3 592.5,266.0 596.4,264.0 C600.3,262.0 597.8,264.0 601.0,261.5 C604.2,259.0 601.8,260.5 606.0,256.6 C610.2,252.7 609.5,252.9 613.5,249.8 C617.5,246.7 613.8,249.5 618.0,247.3 C622.2,245.1 619.0,247.2 626.2,243.2 C633.4,239.2 629.5,241.1 639.5,235.4 C649.5,229.7 645.0,232.2 656.1,226.0 C667.2,219.8 661.6,223.0 672.7,216.8 C683.8,210.6 680.2,212.8 689.3,207.4 C698.4,202.0 693.8,204.7 700.0,200.6 C706.2,196.5 702.7,198.3 708.0,195.2 C713.3,192.1 709.3,194.6 716.0,191.3 C722.7,188.0 717.4,191.3 728.2,185.2 C739.0,179.1 739.2,178.3 748.5,173.1 C757.8,167.9 751.3,171.5 756.0,169.6 C760.7,167.7 759.0,168.4 762.7,167.4 C766.4,166.4 763.6,167.0 767.0,166.5 C770.4,166.0 768.5,166.0 772.8,166.0 C777.1,166.0 774.6,165.9 780.0,166.4 C785.4,166.9 779.3,166.5 789.0,167.4 C798.7,168.3 798.1,167.7 809.2,169.0 C820.3,170.3 818.0,170.6 822.4,171.4" fill="none" stroke="#080808" stroke-width="1.7" stroke-linejoin="round" stroke-linecap="round"/>
<polygon points="102.75,417.1 980,122.0 980,139.7 102.75,434.4" fill="#808080" fill-opacity="0.14"/>
<line x1="102.75" y1="417.1" x2="980" y2="122.0" stroke="#bdbdbd" stroke-width="2.2"/>
<line x1="102.75" y1="434.4" x2="980" y2="139.7" stroke="#c0c0c0" stroke-width="2.2"/>
<path d="M6.2,496.7 L10.3,506.9 L15.4,515.5 L20.5,518.2 L25.6,520.7 L30.4,519.8 L33.8,512.0 L37.9,504.9 L43.1,501.2 L48.2,500.4 L53.3,496.7 L58.0,495.6 L61.5,499.7 L66.7,501.2 L71.8,500.4 L76.9,503.2 L84.1,505.9 L89.2,513.5 L93.3,510.0 L98.4,505.9 L102.6,500.4 L107.7,497.1 L113.8,487.4 L121.0,484.0 L129.2,482.7 L137.4,481.9 L143.6,484.0 L151.8,482.9 L160.0,484.0 L168.2,484.8 L174.3,484.0 L178.8,483.3 L183.6,489.5 L185.6,496.7 L188.7,506.9 L192.8,508.6 L196.9,500.8 L202.0,495.0 L206.2,502.4 L211.3,505.9 L216.0,504.9 L220.5,495.6 L225.6,488.0 L229.7,485.4 L233.8,487.4 L243.1,484.4 L251.3,482.7 L253.7,490.5 L256.4,500.4 L260.9,505.5 L265.6,502.4 L270.8,499.1 L274.9,495.6 L279.0,489.5 L281.0,495.6 L283.7,502.4 L288.2,503.4 L292.3,513.1 L297.4,518.6 L304.6,521.3 L312.8,522.9 L320.0,523.3 L323.1,520.9 L332.3,519.2 L338.4,521.3 L346.6,519.8 L350.7,515.1 L354.8,500.8 L360.0,491.5 L365.1,486.0 L369.8,488.0 L374.3,497.7 L379.5,504.9 L384.6,506.9 L390.7,506.9 L396.9,507.9 L402.0,503.8 L405.1,501.2 L410.3,497.1 L414.4,496.7 L418.5,490.1 L423.6,486.0 L428.7,489.5 L436.9,492.2 L442.0,495.6 L446.1,499.1 L453.3,495.6 L459.5,488.0 L465.6,484.4 L475.9,482.7 L486.1,484.8 L495.4,482.9 L500.5,485.4 L505.2,485.0 L507.7,496.7 L510.7,507.9 L514.8,515.1 L520.0,519.6 L527.2,520.9 L531.3,515.1 L536.4,509.4 L543.6,510.0 L550.7,506.9 L555.9,502.4 L562.0,498.7 L568.2,493.6 L573.3,494.6 L579.5,487.4 L586.6,484.0 L596.9,482.7 L605.0,482.2 L612.9,481.7 L615.2,489.9 L618.7,504.0 L622.3,512.2 L629.3,514.1 L636.3,516.4 L644.5,514.1 L653.9,512.7 L660.9,515.0 L668.0,515.2 L672.2,518.0 L676.2,509.8 L682.0,501.6 L687.9,491.1 L690.2,489.5 L697.3,493.0 L704.3,491.6 L709.0,486.4 L713.2,484.8 L714.8,491.1 L717.9,500.5 L723.0,508.7 L726.6,512.7 L731.3,511.7 L735.9,514.1 L740.6,511.0 L745.3,512.2 L750.0,517.6 L757.0,521.1 L764.1,522.7 L773.4,523.9 L780.5,523.4 L785.2,520.4 L789.8,518.0 L794.1,518.7 L799.2,514.5 L803.9,511.7 L808.6,500.5 L812.8,491.6 L816.8,489.9 L821.5,489.2" fill="none" stroke="#65764a" stroke-width="1.3" stroke-linejoin="round"/>
<path d="M6.2,493.0 L11.3,502.8 L16.4,511.0 L22.6,516.8 L30.4,519.2 L35.9,512.0 L43.1,505.3 L50.2,501.8 L58.5,497.7 L63.6,499.3 L71.8,500.4 L79.0,503.8 L85.1,505.3 L90.3,508.6 L98.4,508.6 L106.7,502.8 L114.9,491.5 L123.1,486.0 L131.3,483.3 L139.5,482.9 L147.7,483.7 L155.9,483.3 L164.1,484.4 L172.3,484.8 L179.5,484.0 L184.6,490.5 L188.7,498.7 L192.8,503.2 L197.9,501.2 L203.1,498.7 L208.2,501.8 L215.4,504.5 L221.5,498.7 L228.7,490.5 L236.9,488.0 L245.1,484.8 L252.3,483.3 L256.4,492.6 L261.5,499.1 L266.7,501.2 L272.8,499.1 L279.0,493.6 L283.1,497.7 L288.2,501.2 L294.3,510.0 L300.5,516.1 L308.7,520.2 L319.0,522.7 L327.2,520.9 L335.4,519.8 L346.6,520.2 L351.8,517.2 L356.9,506.9 L362.0,496.7 L366.1,492.2 L370.3,490.9 L374.3,494.2 L380.5,500.8 L386.6,504.5 L396.9,507.3 L403.0,504.9 L407.2,501.8 L414.4,498.7 L423.6,490.1 L430.8,490.1 L439.0,492.2 L449.2,497.1 L456.4,494.2 L463.6,488.5 L471.8,484.4 L477.9,483.3 L486.1,484.4 L495.4,483.3 L505.2,485.0 L509.7,495.6 L514.8,505.9 L521.0,514.1 L528.2,518.6 L535.4,513.5 L543.6,510.6 L551.8,507.9 L560.0,502.8 L568.2,497.7 L574.3,495.6 L581.5,490.1 L588.7,486.0 L598.9,483.3 L606.0,482.9 L612.9,482.2 L616.4,489.9 L621.1,501.6 L627.0,508.7 L635.2,513.4 L642.2,515.0 L653.9,513.4 L663.3,514.5 L672.7,516.4 L679.7,509.8 L685.5,502.8 L691.4,495.3 L697.3,493.4 L703.1,493.0 L709.0,489.9 L713.7,487.6 L717.2,494.6 L721.9,500.5 L727.7,507.0 L735.9,511.0 L744.1,511.7 L750.0,515.7 L757.0,519.2 L766.4,522.3 L780.5,523.4 L787.5,520.4 L794.5,519.7 L802.7,515.0 L808.6,507.5 L813.3,500.0 L818.0,494.6 L821.5,492.3" fill="none" stroke="#b83e42" stroke-width="1.3" stroke-linejoin="round"/>
<rect x="7.2" y="479.8" width="179" height="13.8" fill="#000" fill-opacity="0.34"/>
<path d="M11.8,484.4 L16.2,489.2 M16.2,484.4 L11.8,489.2" stroke="#5f7044" stroke-width="1.4" fill="none"/>
<circle cx="20.5" cy="486.8" r="2.0" fill="none" stroke="#5f7044" stroke-width="1.8"/>
<text x="26.2" y="489.4" font-size="7.4" fill="#6b7b52" textLength="104" lengthAdjust="spacingAndGlyphs">StochasticRSI (14,14,3,3,Exponential)</text>
<text x="136.4" y="489.4" font-size="7.4" fill="#6b7b52" textLength="21.6" lengthAdjust="spacingAndGlyphs">82.9225</text>
<text x="161" y="489.4" font-size="7.4" fill="#a85c58" textLength="20.5" lengthAdjust="spacingAndGlyphs">73.1985</text>
<rect x="7" y="8.6" width="243.6" height="13.3" fill="#ababab"/>
<text x="10.0" y="18.0" font-size="7.4" fill="#f4f4f4" stroke="#f4f4f4" stroke-width="0.12" textLength="36.2" lengthAdjust="spacingAndGlyphs">03.04.2026 A</text>
<text x="48.2" y="18.0" font-size="7.4" fill="#d8744a" stroke="#d8744a" stroke-width="0.12" textLength="23.0" lengthAdjust="spacingAndGlyphs">4676.40</text>
<text x="73.2" y="18.0" font-size="7.4" fill="#f4f4f4" stroke="#f4f4f4" stroke-width="0.12" textLength="3.5" lengthAdjust="spacingAndGlyphs">Y</text>
<text x="79.2" y="18.0" font-size="7.4" fill="#d8744a" stroke="#d8744a" stroke-width="0.12" textLength="22.5" lengthAdjust="spacingAndGlyphs">4676.40</text>
<text x="104.2" y="18.0" font-size="7.4" fill="#f4f4f4" stroke="#f4f4f4" stroke-width="0.12" textLength="3.8" lengthAdjust="spacingAndGlyphs">D</text>
<text x="110.5" y="18.0" font-size="7.4" fill="#d8744a" stroke="#d8744a" stroke-width="0.12" textLength="22.0" lengthAdjust="spacingAndGlyphs">4676.40</text>
<text x="135.0" y="18.0" font-size="7.4" fill="#f4f4f4" stroke="#f4f4f4" stroke-width="0.12" textLength="3.2" lengthAdjust="spacingAndGlyphs">K</text>
<text x="140.8" y="18.0" font-size="7.4" fill="#d8744a" stroke="#d8744a" stroke-width="0.12" textLength="23.0" lengthAdjust="spacingAndGlyphs">4676.40</text>
<text x="166.2" y="18.0" font-size="7.4" fill="#f4f4f4" stroke="#f4f4f4" stroke-width="0.12" textLength="8.0" lengthAdjust="spacingAndGlyphs">AO</text>
<text x="177.0" y="18.0" font-size="7.4" fill="#d8744a" stroke="#d8744a" stroke-width="0.12" textLength="12.2" lengthAdjust="spacingAndGlyphs">0.00</text>
<text x="191.8" y="18.0" font-size="7.4" fill="#f4f4f4" stroke="#f4f4f4" stroke-width="0.12" textLength="2.8" lengthAdjust="spacingAndGlyphs">F</text>
<text x="196.8" y="18.0" font-size="7.4" fill="#d8744a" stroke="#d8744a" stroke-width="0.12" textLength="12.0" lengthAdjust="spacingAndGlyphs">0.00</text>
<text x="210.8" y="18.0" font-size="7.4" fill="#f4f4f4" stroke="#f4f4f4" stroke-width="0.12" textLength="8.5" lengthAdjust="spacingAndGlyphs">F%</text>
<text x="221.8" y="18.0" font-size="7.4" fill="#d8744a" stroke="#d8744a" stroke-width="0.12" textLength="12.0" lengthAdjust="spacingAndGlyphs">0.00</text>
<text x="236.2" y="18.0" font-size="7.4" fill="#f4f4f4" stroke="#f4f4f4" stroke-width="0.12" textLength="3.8" lengthAdjust="spacingAndGlyphs">H</text>
<text x="242.5" y="18.0" font-size="7.4" fill="#d8744a" stroke="#d8744a" stroke-width="0.12" textLength="3.8" lengthAdjust="spacingAndGlyphs">0</text>
<path d="M11.3,26.65 L15.9,31.85 M15.9,26.65 L11.3,31.85" stroke="#111" stroke-width="1.5" fill="none"/>
<circle cx="20.6" cy="29.25" r="2.1" fill="none" stroke="#111" stroke-width="1.9"/>
<text x="25.6" y="31.6" font-size="7.6" fill="#1a1a1a" stroke="#1a1a1a" stroke-width="0.25" textLength="26.5" lengthAdjust="spacingAndGlyphs">SMA (50)</text>
<text x="55.4" y="31.6" font-size="7.6" fill="#1a1a1a" stroke="#1a1a1a" stroke-width="0.25" textLength="24.0" lengthAdjust="spacingAndGlyphs">4,944.00</text>
<rect x="9" y="36.6" width="5.8" height="5.8" fill="#2f8a2f"/><rect x="10.6" y="38.2" width="2.6" height="2.6" fill="#1c5a1c"/>
<rect x="17.2" y="36.6" width="5.8" height="5.8" fill="#2f8a2f"/><rect x="18.6" y="38.0" width="3" height="3" fill="#174d17"/>
<text x="25.7" y="42.2" font-size="7.6" fill="#3f9a3f" stroke="#3f9a3f" stroke-width="0.12" textLength="37.6" lengthAdjust="spacingAndGlyphs">T27 : 4381.55</text>
<rect x="9.4" y="45.6" width="4.8" height="4.8" fill="#b5b5b5"/><rect x="10.9" y="47.1" width="1.8" height="1.8" fill="#555"/>
<circle cx="20.1" cy="48.0" r="2.5" fill="#4a4a4a"/><circle cx="20.1" cy="48.0" r="0.8" fill="#ddd"/>
<text x="25.7" y="50.7" font-size="7.6" fill="#cfcfcf" stroke="#cfcfcf" stroke-width="0.12" textLength="37.6" lengthAdjust="spacingAndGlyphs">T14 : 4923.12</text>
<rect x="9.4" y="54.6" width="4.8" height="4.8" fill="#b5b5b5"/><rect x="10.9" y="56.1" width="1.8" height="1.8" fill="#555"/>
<circle cx="20.1" cy="57.0" r="2.5" fill="#4a4a4a"/><circle cx="20.1" cy="57.0" r="0.8" fill="#ddd"/>
<text x="25.7" y="59.7" font-size="7.6" fill="#cfcfcf" stroke="#cfcfcf" stroke-width="0.12" textLength="37.6" lengthAdjust="spacingAndGlyphs">T14 : 4819.31</text>
<rect x="9.2" y="63.05" width="5.4" height="5.4" fill="#6a6a6a"/><rect x="10.6" y="64.45" width="2.6" height="2.6" fill="#2a2a2a"/>
<rect x="17.4" y="63.05" width="5.4" height="5.4" fill="#3c3c3c"/><rect x="18.9" y="64.55" width="2.4" height="2.4" fill="#222"/>
<text x="25.7" y="68.0" font-size="7.6" fill="#505050" stroke="#505050" stroke-width="0.12" textLength="56.8" lengthAdjust="spacingAndGlyphs">T15: (% 0 - 4404.83)</text>
<rect x="9.2" y="71.8" width="5.4" height="5.4" fill="#6a6a6a"/><rect x="10.6" y="73.2" width="2.6" height="2.6" fill="#2a2a2a"/>
<rect x="17.4" y="71.8" width="5.4" height="5.4" fill="#3c3c3c"/><rect x="18.9" y="73.3" width="2.4" height="2.4" fill="#222"/>
<text x="25.7" y="76.8" font-size="7.6" fill="#505050" stroke="#505050" stroke-width="0.12" textLength="65.5" lengthAdjust="spacingAndGlyphs">T15: (% 23.6 - 4686.44)</text>
<rect x="9.2" y="80.3" width="5.4" height="5.4" fill="#6a6a6a"/><rect x="10.6" y="81.7" width="2.6" height="2.6" fill="#2a2a2a"/>
<rect x="17.4" y="80.3" width="5.4" height="5.4" fill="#3c3c3c"/><rect x="18.9" y="81.8" width="2.4" height="2.4" fill="#222"/>
<text x="25.7" y="85.3" font-size="7.6" fill="#505050" stroke="#505050" stroke-width="0.12" textLength="65.5" lengthAdjust="spacingAndGlyphs">T15: (% 38.2 - 4860.65)</text>
<rect x="9.2" y="89.3" width="5.4" height="5.4" fill="#6a6a6a"/><rect x="10.6" y="90.7" width="2.6" height="2.6" fill="#2a2a2a"/>
<rect x="17.4" y="89.3" width="5.4" height="5.4" fill="#3c3c3c"/><rect x="18.9" y="90.8" width="2.4" height="2.4" fill="#222"/>
<text x="25.7" y="94.3" font-size="7.6" fill="#505050" stroke="#505050" stroke-width="0.12" textLength="60.5" lengthAdjust="spacingAndGlyphs">T15: (% 50 - 5001.46)</text>
<rect x="9.2" y="97.8" width="5.4" height="5.4" fill="#6a6a6a"/><rect x="10.6" y="99.2" width="2.6" height="2.6" fill="#2a2a2a"/>
<rect x="17.4" y="97.8" width="5.4" height="5.4" fill="#3c3c3c"/><rect x="18.9" y="99.3" width="2.4" height="2.4" fill="#222"/>
<text x="25.7" y="102.8" font-size="7.6" fill="#505050" stroke="#505050" stroke-width="0.12" textLength="65.5" lengthAdjust="spacingAndGlyphs">T15: (% 61.8 - 5142.26)</text>
<rect x="9.2" y="106.55" width="5.4" height="5.4" fill="#6a6a6a"/><rect x="10.6" y="107.95" width="2.6" height="2.6" fill="#2a2a2a"/>
<rect x="17.4" y="106.55" width="5.4" height="5.4" fill="#3c3c3c"/><rect x="18.9" y="108.05" width="2.4" height="2.4" fill="#222"/>
<text x="25.7" y="111.5" font-size="7.6" fill="#505050" stroke="#505050" stroke-width="0.12" textLength="65.5" lengthAdjust="spacingAndGlyphs">T15: (% 78.6 - 5342.73)</text>
<rect x="9.2" y="115.3" width="5.4" height="5.4" fill="#6a6a6a"/><rect x="10.6" y="116.7" width="2.6" height="2.6" fill="#2a2a2a"/>
<rect x="17.4" y="115.3" width="5.4" height="5.4" fill="#3c3c3c"/><rect x="18.9" y="116.8" width="2.4" height="2.4" fill="#222"/>
<text x="25.7" y="120.3" font-size="7.6" fill="#505050" stroke="#505050" stroke-width="0.12" textLength="64.3" lengthAdjust="spacingAndGlyphs">T15: (% 100 - 5598.09)</text>
<rect x="9.2" y="124.05" width="5.4" height="5.4" fill="#6a6a6a"/><rect x="10.6" y="125.45" width="2.6" height="2.6" fill="#2a2a2a"/>
<rect x="17.4" y="124.05" width="5.4" height="5.4" fill="#3c3c3c"/><rect x="18.9" y="125.55" width="2.4" height="2.4" fill="#222"/>
<text x="25.7" y="129.1" font-size="7.6" fill="#505050" stroke="#505050" stroke-width="0.12" textLength="69.3" lengthAdjust="spacingAndGlyphs">T15: (% 161.8 - 6335.52)</text>
<text x="929.5" y="68.0" font-size="7.0" fill="#828282" stroke="#828282" stroke-width="0.12" textLength="51.0" lengthAdjust="spacingAndGlyphs">100% - (5598.09)</text>
<text x="927.7" y="109.3" font-size="7.0" fill="#828282" stroke="#828282" stroke-width="0.12" textLength="52.8" lengthAdjust="spacingAndGlyphs">78.6% - (5342.73)</text>
<text x="927.7" y="142.1" font-size="7.0" fill="#828282" stroke="#828282" stroke-width="0.12" textLength="52.8" lengthAdjust="spacingAndGlyphs">61.8% - (5142.26)</text>
<text x="933.0" y="164.7" font-size="7.0" fill="#828282" stroke="#828282" stroke-width="0.12" textLength="47.5" lengthAdjust="spacingAndGlyphs">50% - (5001.46)</text>
<text x="927.7" y="187.8" font-size="7.0" fill="#828282" stroke="#828282" stroke-width="0.12" textLength="52.8" lengthAdjust="spacingAndGlyphs">38.2% - (4860.65)</text>
<text x="927.7" y="216.1" font-size="7.0" fill="#828282" stroke="#828282" stroke-width="0.12" textLength="52.8" lengthAdjust="spacingAndGlyphs">23.6% - (4686.44)</text>
<text x="937.0" y="262.1" font-size="7.0" fill="#828282" stroke="#828282" stroke-width="0.12" textLength="43.5" lengthAdjust="spacingAndGlyphs">0% - (4404.83)</text>
<text x="984.4" y="84.7" font-size="7.6" fill="#111" stroke="#111" stroke-width="0.3" textLength="22.6" lengthAdjust="spacingAndGlyphs">5500.00</text>
<text x="984.4" y="246.6" font-size="7.6" fill="#111" stroke="#111" stroke-width="0.3" textLength="22.6" lengthAdjust="spacingAndGlyphs">4500.00</text>
<text x="984.4" y="327.3" font-size="7.6" fill="#111" stroke="#111" stroke-width="0.3" textLength="22.6" lengthAdjust="spacingAndGlyphs">4000.00</text>
<text x="984.4" y="408.6" font-size="7.6" fill="#111" stroke="#111" stroke-width="0.3" textLength="22.6" lengthAdjust="spacingAndGlyphs">3500.00</text>
<polygon points="975.6,66.0 979.6,61.9 1007.3,61.9 1007.3,70.1 979.6,70.1" fill="#5a5a5a"/>
<text x="980.8" y="68.7" font-size="7.5" fill="#fff" stroke="#fff" stroke-width="0.0" textLength="24.5" lengthAdjust="spacingAndGlyphs" font-weight="bold">5598.09</text>
<polygon points="975.6,107.5 979.6,103.4 1007.3,103.4 1007.3,111.6 979.6,111.6" fill="#5a5a5a"/>
<text x="980.8" y="110.2" font-size="7.5" fill="#fff" stroke="#fff" stroke-width="0.0" textLength="24.5" lengthAdjust="spacingAndGlyphs" font-weight="bold">5342.73</text>
<polygon points="975.6,139.7 979.6,135.6 1007.3,135.6 1007.3,143.79999999999998 979.6,143.79999999999998" fill="#5a5a5a"/>
<text x="980.8" y="142.4" font-size="7.5" fill="#fff" stroke="#fff" stroke-width="0.0" textLength="24.5" lengthAdjust="spacingAndGlyphs" font-weight="bold">5142.26</text>
<polygon points="975.6,162.7 979.6,158.6 1007.3,158.6 1007.3,166.79999999999998 979.6,166.79999999999998" fill="#5a5a5a"/>
<text x="980.8" y="165.4" font-size="7.5" fill="#fff" stroke="#fff" stroke-width="0.0" textLength="24.5" lengthAdjust="spacingAndGlyphs" font-weight="bold">5001.46</text>
<polygon points="975.6,175.3 979.6,171.20000000000002 1007.3,171.20000000000002 1007.3,179.4 979.6,179.4" fill="#cdcdcd"/>
<text x="980.8" y="178.0" font-size="7.5" fill="#111" stroke="#111" stroke-width="0.0" textLength="24.5" lengthAdjust="spacingAndGlyphs" font-weight="bold">4923.12</text>
<polygon points="975.6,192.6 979.6,188.9 1007.3,188.9 1007.3,196.29999999999998 979.6,196.29999999999998" fill="#cdcdcd"/>
<text x="980.8" y="195.3" font-size="7.5" fill="#111" stroke="#111" stroke-width="0.0" textLength="24.5" lengthAdjust="spacingAndGlyphs" font-weight="bold">4819.31</text>
<polygon points="975.6,185.6 979.6,181.5 1007.3,181.5 1007.3,189.7 979.6,189.7" fill="#5a5a5a"/>
<text x="980.8" y="188.3" font-size="7.5" fill="#fff" stroke="#fff" stroke-width="0.0" textLength="24.5" lengthAdjust="spacingAndGlyphs" font-weight="bold">4860.65</text>
<polygon points="975.6,213.7 979.6,209.6 1007.3,209.6 1007.3,217.79999999999998 979.6,217.79999999999998" fill="#5a5a5a"/>
<text x="980.8" y="216.4" font-size="7.5" fill="#fff" stroke="#fff" stroke-width="0.0" textLength="24.5" lengthAdjust="spacingAndGlyphs" font-weight="bold">4686.44</text>
<rect x="979" y="257.5" width="31.5" height="11.8" fill="#1d1d1d" filter="url(#sh)"/>
<polygon points="974.8,262.4 978.6,254.6 1007,254.6 1007,266.2 978.6,266.2" fill="#3d8d37" stroke="#6fb868" stroke-width="0.8"/>
<text x="980.3" y="263.3" font-size="7.8" fill="#eef5ee" stroke="#eef5ee" stroke-width="0.12" textLength="25.4" lengthAdjust="spacingAndGlyphs">4397.80</text>
<rect x="985.9" y="8.6" width="9.4" height="8.4" fill="#111"/>
<path d="M988,10.5 h2.2 v2 h-2.2z M991.2,10.5 h2.2 v2 h-2.2z M988,13.3 h2.2 v2 h-2.2z M991.2,13.3 h2.2 v2 h-2.2z" fill="#aaa"/>
<circle cx="1002.2" cy="12.8" r="1.95" fill="none" stroke="#111" stroke-width="1.6"/>
<circle cx="1002.2" cy="12.8" r="3.0" fill="none" stroke="#111" stroke-width="1.1" stroke-dasharray="1.18,1.176"/>
<polygon points="1013.1,8.9 1016.8,10.9 1016.8,14.7 1013.1,16.7 1009.4,14.7 1009.4,10.9" fill="#8c8c8c"/>
<polygon points="1013.1,9.6 1016,11.2 1013.1,12.8 1010.2,11.2" fill="#e4e4e4"/>
<rect x="993" y="453.8" width="11.6" height="11.6" fill="#111"/>
<path d="M995.2,456.6 h7.2 v6.2 h-7.2z M995.2,458.4 h7.2 M998.4,458.4 v4.4" stroke="#999" stroke-width="0.8" fill="none"/>
<rect x="1007.8" y="453.8" width="11.4" height="11.6" fill="#111"/>
<path d="M1010.8,457 l2.6,2.6 l-2.6,2.6 M1013.8,457 l2.6,2.6 l-2.6,2.6" stroke="#bbb" stroke-width="1" fill="none"/>
<text x="984.4" y="494.0" font-size="7.4" fill="#222" stroke="#222" stroke-width="0.25" textLength="22.4" lengthAdjust="spacingAndGlyphs">80.0000</text>
<text x="984.3" y="510.3" font-size="7.4" fill="#222" stroke="#222" stroke-width="0.25" textLength="22.3" lengthAdjust="spacingAndGlyphs">40.0000</text>
<text x="984.8" y="526.7" font-size="7.4" fill="#222" stroke="#222" stroke-width="0.25" textLength="21.3" lengthAdjust="spacingAndGlyphs">-0.0000</text>
<rect x="988.0" y="480.4" width="8.9" height="8.7" fill="#111"/>
<rect x="999.0" y="480.4" width="8.9" height="8.7" fill="#111"/>
<rect x="1009.8" y="480.4" width="8.9" height="8.7" fill="#111"/>
<rect x="999.0" y="491.2" width="8.9" height="8.8" fill="#111"/>
<rect x="1009.8" y="491.2" width="8.9" height="8.8" fill="#111"/>
<path d="M992.4,482.3 l2.4,2.6 h-1.4 v2.4 h-2 v-2.4 h-1.4z" fill="#ccc"/>
<path d="M1003.4,487.3 l2.4,-2.6 h-1.4 v-2.4 h-2 v2.4 h-1.4z" fill="#ccc"/>
<path d="M1011.8,482.3 l4.8,4.9 M1016.6,482.3 l-4.8,4.9" stroke="#ccc" stroke-width="0.9" fill="none"/>
<path d="M1001.3,493.3 h1.9 v1.9 h-1.9z M1003.9,493.3 h1.9 v1.9 h-1.9z M1001.3,496 h1.9 v1.9 h-1.9z M1003.9,496 h1.9 v1.9 h-1.9z" fill="#aaa"/>
<path d="M1011.9,493.8 h4.8 v3.8 h-4.8z M1011.9,495.2 h4.8 M1014.3,495.2 v2.4" stroke="#bbb" stroke-width="0.7" fill="none"/>
<text x="186.0" y="537.4" font-size="7.2" fill="#1c1c1c" stroke="#1c1c1c" stroke-width="0.3" textLength="16.6" lengthAdjust="spacingAndGlyphs">19 Eyl</text>
<text x="410.0" y="537.4" font-size="7.2" fill="#1c1c1c" stroke="#1c1c1c" stroke-width="0.3" textLength="19.2" lengthAdjust="spacingAndGlyphs">28 Kas</text>
<text x="635.2" y="537.4" font-size="7.2" fill="#1c1c1c" stroke="#1c1c1c" stroke-width="0.3" textLength="20.4" lengthAdjust="spacingAndGlyphs">09 Şub</text>
<text x="862.9" y="537.4" font-size="7.2" fill="#1c1c1c" stroke="#1c1c1c" stroke-width="0.3" textLength="17.9" lengthAdjust="spacingAndGlyphs">18 Nis</text>
<rect x="786.8" y="531.0" width="40" height="9.6" fill="#222" filter="url(#sh)"/>
<rect x="782.8" y="527.9" width="39.4" height="10.3" fill="#7abd78"/>
<text x="785.2" y="536.1" font-size="7.4" fill="#f2f8f2" stroke="#f2f8f2" stroke-width="0.0" textLength="34.6" lengthAdjust="spacingAndGlyphs" font-weight="bold">30 Mar '26</text>
</g>
</svg></body></html>
